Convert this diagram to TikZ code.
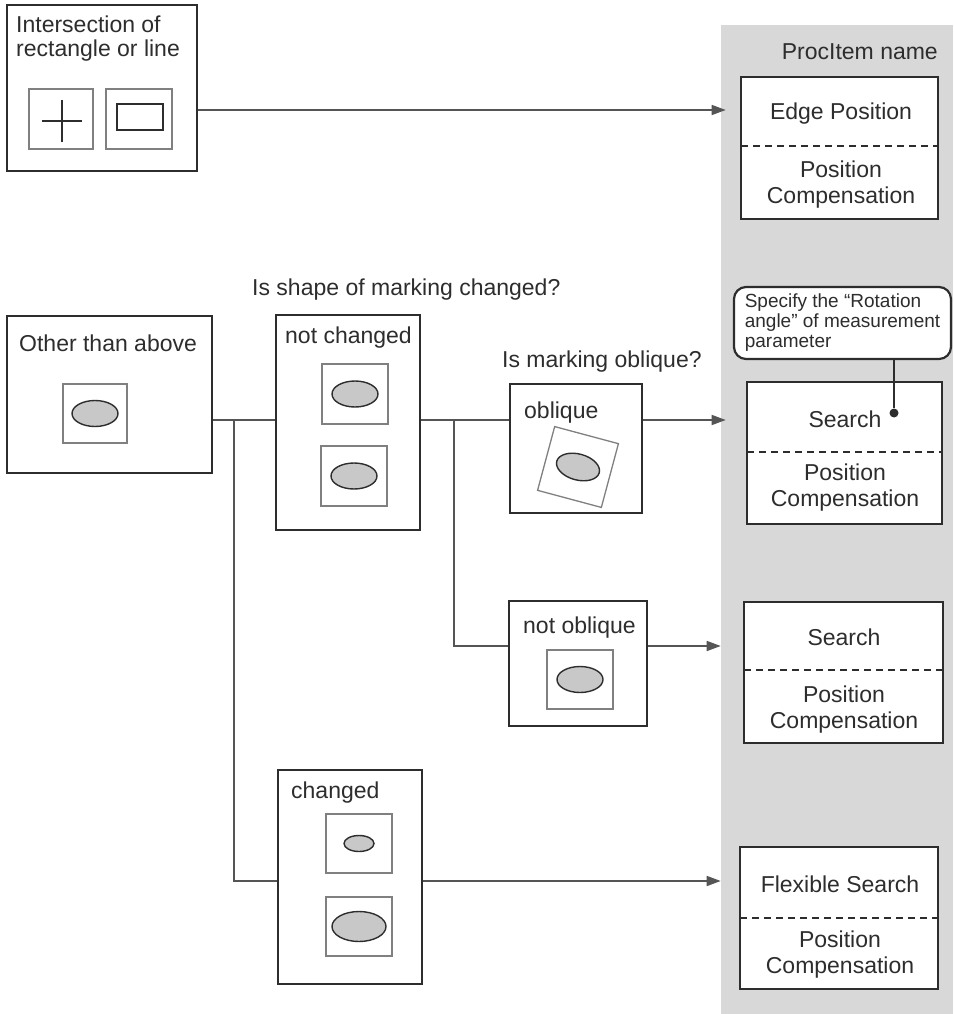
\documentclass[tikz,border=0pt]{standalone}
\usepackage{fontspec}
\setmainfont{Liberation Sans}
\usetikzlibrary{arrows.meta,shapes.geometric}
\definecolor{band}{RGB}{216,216,216}
\definecolor{ink}{RGB}{45,45,45}
\definecolor{wire}{RGB}{85,85,85}
\definecolor{mark}{RGB}{200,200,200}

\begin{document}
\begin{tikzpicture}[x=1pt,y=-1pt,
  every node/.style={font=\fontsize{23}{26}\selectfont, text=ink},
  bigbox/.style={draw=ink, line width=2.6pt, fill=white, inner sep=0pt},
  markbox/.style={draw=gray, line width=1.3pt, inner sep=0pt, minimum width=66pt, minimum height=60pt},
  spot/.style={ellipse, draw=ink, line width=1.4pt, fill=mark, inner sep=0pt, minimum width=46pt, minimum height=26pt},
  resbox/.style={draw=ink, line width=2.6pt, fill=white, inner sep=0pt},
  divider/.style={draw=ink, line width=2.2pt, dash pattern=on 7pt off 5pt},
  wireline/.style={draw=wire, line width=1.6pt},
  arrowline/.style={wireline, -{Triangle[length=14pt,width=10pt]}},
  lefttext/.style={anchor=base west, inner sep=0pt},
  midtext/.style={anchor=base, inner sep=0pt}]
\useasboundingbox (0,0) rectangle (953,1014);
\fill[band] (721,25) rectangle (953,1014);
\node[anchor=base east, inner sep=0pt] (procname) at (938,60) {ProcItem name};

\node[bigbox, minimum width=190pt, minimum height=166pt] (inter) at (102,88) {};
\node[lefttext, align=left, font=\fontsize{23}{24}\selectfont] (intertext) at (16,57) {Intersection of\\rectangle or line};
\node[markbox, minimum width=64pt] (plusbox) at (61,119) {};
\node[markbox] (rectbox) at (139,119) {};
\node[draw=ink, line width=2pt, minimum width=46pt, minimum height=26pt, inner sep=0pt] (rectmark) at (140,117) {};
\draw[ink, line width=1.8pt] (42,121) -- (82,121) (62,100) -- (62,142);

\node[bigbox, minimum width=205pt, minimum height=157pt] (other) at (109.5,394.5) {};
\node[lefttext] at (19,351) {Other than above};
\node[markbox, minimum width=64pt, minimum height=59pt] (otherbox) at (95,413.5) {};
\node[spot] at (otherbox.center) {};

\node[lefttext] at (252,295) {Is shape of marking changed?};
\node[bigbox, minimum width=144pt, minimum height=215pt] (nch) at (348,422.5) {};
\node[lefttext] at (285,343) {not changed};
\node[markbox] (nchbox1) at (355,394) {};
\node[spot] at (nchbox1.center) {};
\node[markbox] (nchbox2) at (354,476) {};
\node[spot] at (nchbox2.center) {};

\node[lefttext] at (502,367) {Is marking oblique?};
\node[bigbox, minimum width=132pt, minimum height=129pt] (obl) at (576,448.5) {};
\node[lefttext] at (524,418) {oblique};
\node[markbox, minimum height=66pt, rotate=-15] (oblbox) at (578,467) {};
\node[spot, rotate=-15, minimum width=44pt] at (oblbox.center) {};

\node[bigbox, minimum width=138pt, minimum height=125pt] (noobl) at (578,663.5) {};
\node[lefttext] at (523,633) {not oblique};
\node[markbox, minimum height=59pt] (nooblbox) at (580,679.5) {};
\node[spot] at (nooblbox.center) {};

\node[bigbox, minimum width=144pt, minimum height=214pt] (chg) at (350,877) {};
\node[lefttext] at (291,798) {changed};
\node[markbox, minimum height=59pt] (chgbox1) at (359,843.5) {};
\node[spot, minimum width=30pt, minimum height=16pt] at (chgbox1.center) {};
\node[markbox, minimum height=59pt] (chgbox2) at (359,926.5) {};
\node[spot, minimum width=54pt, minimum height=30pt] at (chgbox2.center) {};

\node[resbox, minimum width=197pt, minimum height=142pt] (res1) at (839.5,148) {};
\draw[divider] (741,146) -- (938,146);
\node[midtext] at (841,120) {Edge Position};
\node[midtext, align=center] at (841,203) {Position\\Compensation};

\node[resbox, minimum width=195pt, minimum height=142pt] (res2) at (844.5,453) {};
\draw[divider] (747,452) -- (942,452);
\node[midtext] at (845,427) {Search};
\node[midtext, align=center] at (845,506) {Position\\Compensation};

\node[resbox, minimum width=199pt, minimum height=141pt] (res3) at (843.5,672.5) {};
\draw[divider] (744,670) -- (943,670);
\node[midtext] at (844,645) {Search};
\node[midtext, align=center] at (844,728) {Position\\Compensation};

\node[resbox, minimum width=198pt, minimum height=142pt] (res4) at (839,918) {};
\draw[divider] (740,918) -- (938,918);
\node[midtext] at (840,892) {Flexible Search};
\node[midtext, align=center] at (840,973) {Position\\Compensation};

\node[draw=ink, line width=2.2pt, fill=white, rounded corners=12pt, minimum width=217pt, minimum height=72pt, align=left, inner sep=0pt, font=\fontsize{19}{20}\selectfont] (note) at (842.5,323) {Specify the “Rotation\\angle” of measurement\\parameter};
\node[circle, fill=ink, minimum size=9pt, inner sep=0pt] (pin) at (894,413) {};
\draw[ink, line width=2pt] (note.south -| pin) -- (pin);

\coordinate (r1) at (400,110);
\coordinate (ja) at (234,420);
\coordinate (jb) at (454,420);
\coordinate (jc) at (454,646);
\coordinate (jd) at (234,881);
\draw[arrowline, shorten >=14pt] (inter.east |- r1) -- (res1.west |- r1);
\draw[wireline] (other.east |- ja) -- (nch.west |- ja);
\draw[wireline] (ja) -- (jd) -- (chg.west |- jd);
\draw[wireline] (nch.east |- jb) -- (obl.west |- jb);
\draw[wireline] (jb) -- (jc) -- (noobl.west |- jc);
\draw[arrowline, shorten >=20pt] (obl.east |- jb) -- (res2.west |- jb);
\draw[arrowline, shorten >=22pt] (noobl.east |- jc) -- (res3.west |- jc);
\draw[arrowline, shorten >=18pt] (chg.east |- jd) -- (res4.west |- jd);
\end{tikzpicture}
\end{document}
